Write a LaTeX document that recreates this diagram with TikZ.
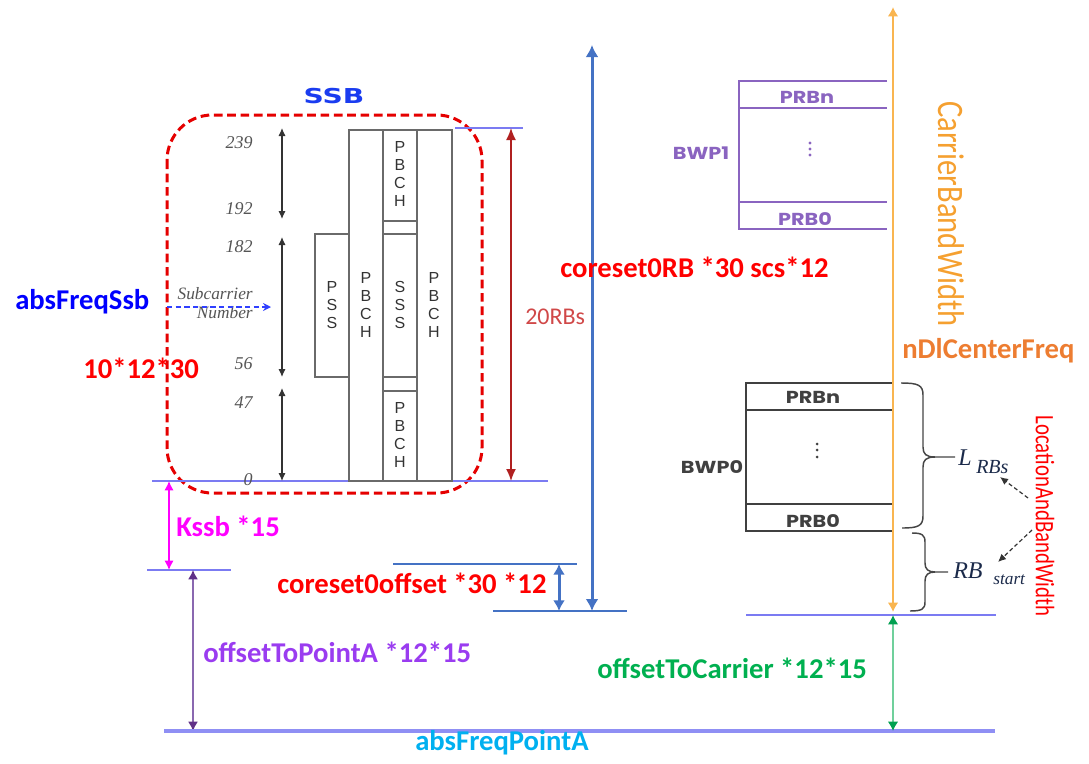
\documentclass[tikz,border=0pt]{standalone}
\usepackage{fontspec}
\setmainfont{Carlito}
\newfontfamily\serifit{Liberation Serif}
\newfontfamily\gothic{Poppins}
\newfontfamily\dejavu{DejaVu Sans}
\newfontfamily\arialf{Liberation Sans}
\usetikzlibrary{arrows.meta}
\definecolor{refblue}{HTML}{7B7BF2}
\definecolor{arrblue}{HTML}{4472C4}
\definecolor{ssbblue}{HTML}{1A3CF0}
\definecolor{absblue}{HTML}{0000FF}
\definecolor{numgray}{HTML}{555555}
\definecolor{blkgray}{HTML}{6A6A6A}
\definecolor{txtgray}{HTML}{333333}
\definecolor{rbred}{HTML}{B02020}
\definecolor{rbtext}{HTML}{D04848}
\definecolor{kmag}{HTML}{FF00FF}
\definecolor{ptaline}{HTML}{8A68B0}
\definecolor{ptahead}{HTML}{603088}
\definecolor{ptatext}{HTML}{9A3CF0}
\definecolor{pointa}{HTML}{00B0F0}
\definecolor{carline}{HTML}{F9B550}
\definecolor{cartext}{HTML}{F5A030}
\definecolor{nldc}{HTML}{ED7D31}
\definecolor{greenl}{HTML}{70D09C}
\definecolor{greenh}{HTML}{00A050}
\definecolor{greent}{HTML}{00B050}
\definecolor{bwpone}{HTML}{8A64C0}
\definecolor{bwpzero}{HTML}{404040}
\definecolor{brcgray}{HTML}{454545}
\definecolor{lrbs}{HTML}{1B2A4A}
\definecolor{subdash}{HTML}{3040FF}
\begin{document}
\begin{tikzpicture}[x=0.75pt,y=-0.75pt,
  lbl/.style={font=\fontsize{21.5}{24}\selectfont\bfseries, inner sep=0pt, anchor=base west},
  num/.style={font=\serifit\itshape\fontsize{13.5}{14}\selectfont, text=numgray, inner sep=0pt, anchor=base east},
  blk/.style={draw=blkgray, line width=1.1pt},
  stack/.style={font=\arialf\fontsize{12}{13.5}\selectfont, text=txtgray, align=center, inner sep=0pt},
  prb/.style={font=\gothic\bfseries\fontsize{13}{14}\selectfont, inner sep=0pt},
  vtxt/.style={rotate=-90, inner sep=0pt},
  brc/.style={draw=brcgray, line width=1.1pt},
  refl/.style={draw=refblue, line width=1.5pt},
  blackarr/.style={draw=txtgray, line width=0.9pt, {Latex[length=6pt,width=5.5pt]}-{Latex[length=6pt,width=5.5pt]}},
]
\useasboundingbox (0,0) rectangle (1089,764);

% ---------- SSB box ----------
\node[font=\dejavu\bfseries\fontsize{15.4}{16}\selectfont, text=ssbblue, inner sep=0pt, anchor=base] (ssb) at (334,103) {\scalebox{1.37}[1]{SSB}};
\draw[draw=red!90!black, line width=2.25pt, dash pattern=on 6.5pt off 3.5pt, rounded corners=34pt] (167,115) rectangle (482,493);

% reference lines around the SSB
\coordinate (t1) at (455,128); \coordinate (t2) at (523,128);
\draw[refl] (t1) -- (t2);
\coordinate (b1) at (152,481); \coordinate (b2) at (548,481);
\draw[refl] (b1) -- (b2);

% blocks
\draw[blk] (315,234) rectangle (349,377);
\draw[blk] (349,130) rectangle (383,481);
\draw[blk] (383,130) rectangle (417,481);
\draw[blk] (383,221) -- (417,221);
\draw[blk] (383,234) -- (417,234);
\draw[blk] (383,377) -- (417,377);
\draw[blk] (383,391) -- (417,391);
\draw[blk] (417,130) rectangle (452,481);
\node[stack] (pss) at (332,305) {P\\S\\S};
\node[stack] (pbch1) at (366,305) {P\\B\\C\\H};
\node[stack] (pbcht) at (400,174) {P\\B\\C\\H};
\node[stack] (sss) at (400,305) {S\\S\\S};
\node[stack] (pbchb) at (400,435) {P\\B\\C\\H};
\node[stack] (pbch4) at (434,305) {P\\B\\C\\H};

% subcarrier numbers
\node[num] (n239) at (253,148) {239};
\node[num] (n192) at (253,214) {192};
\node[num] (n182) at (253,252) {182};
\node[num] (n56) at (253,369) {56};
\node[num] (n47) at (253,408) {47};
\node[num] (n0) at (253,485) {0};
\coordinate (a1t) at (282,128); \coordinate (a1b) at (282,219);
\coordinate (a2t) at (282,237); \coordinate (a2b) at (282,377);
\coordinate (a3t) at (282,388); \coordinate (a3b) at (282,481);
\draw[blackarr] (a1t) -- (a1b);
\draw[blackarr] (a2t) -- (a2b);
\draw[blackarr] (a3t) -- (a3b);
\node[num, font=\serifit\itshape\fontsize{13}{13}\selectfont] (subc) at (253,299) {Subcarrier};
\node[num, font=\serifit\itshape\fontsize{13}{13}\selectfont] (subn) at (253,318) {Number};
\coordinate (sd1) at (167,307); \coordinate (sd2) at (271,307);
\draw[draw=subdash, line width=0.9pt, dash pattern=on 4pt off 2.5pt, -{Stealth[length=6pt,width=6pt]}] (sd1) -- (sd2);

% 20RBs
\coordinate (r1) at (511,128); \coordinate (r2) at (511,481);
\draw[draw=rbred, line width=1.1pt, {Latex[length=9pt,width=7.5pt]}-{Latex[length=9pt,width=7.5pt]}] (r1) -- (r2);
\node[font=\fontsize{18}{20}\selectfont, text=rbtext, inner sep=0pt, anchor=base west] (rbs20) at (525,324) {20RBs};

% left labels
\node[lbl, text=absblue] (absssb) at (15,309) {absFreqSsb};
\node[lbl, text=red] (tenx) at (83,378) {10*12*30};

% Kssb
\coordinate (k1) at (147,570); \coordinate (k2) at (231,570);
\draw[refl] (k1) -- (k2);
\coordinate (ka) at (169,481); \coordinate (kb) at (169,570);
\draw[draw=kmag, line width=1.1pt, {Latex[length=7pt,width=7pt]}-{Latex[length=7pt,width=7pt]}] (ka) -- (kb);
\node[lbl, text=kmag] (kssb) at (176,536) {Kssb *15};

% offsetToPointA
\coordinate (pa1) at (193,570); \coordinate (pa2) at (193,731);
\draw[draw=ptaline, line width=1.1pt, {Latex[length=7pt,width=7.5pt,color=ptahead]}-{Latex[length=7pt,width=7.5pt,color=ptahead]}] (pa1) -- (pa2);
\node[lbl, text=ptatext] (otpa) at (203,662) {offsetToPointA *12*15};

% absFreqPointA line
\coordinate (pl1) at (164,731); \coordinate (pl2) at (995,731);
\draw[draw=refblue!85!white, line width=2.3pt] (pl1) -- (pl2);
\node[lbl, text=pointa] (afpa) at (415,750) {absFreqPointA};

% coreset0
\coordinate (c1) at (393,564); \coordinate (c2) at (577,564);
\draw[draw=arrblue, line width=1.3pt] (c1) -- (c2);
\coordinate (c3) at (493,611); \coordinate (c4) at (627,611);
\draw[draw=arrblue, line width=1pt] (c3) -- (c4);
\coordinate (co1) at (559,564); \coordinate (co2) at (559,611);
\draw[draw=arrblue, line width=2.25pt, {Latex[length=8pt,width=9pt]}-{Latex[length=8pt,width=9pt]}] (co1) -- (co2);
\node[lbl, text=red] (c0off) at (277,593) {coreset0offset *30 *12};
\coordinate (bb1) at (592,45); \coordinate (bb2) at (592,611);
\draw[draw=arrblue, line width=2.25pt, {Latex[length=9pt,width=9.75pt]}-{Latex[length=9pt,width=9.75pt]}] (bb1) -- (bb2);
\node[lbl, text=red] (c0rb) at (560,277) {coreset0RB *30 scs*12};

% ---------- right side ----------
% BWP1
\draw[draw=bwpone, line width=1.5pt] (887,81) -- (739,81) -- (739,229) -- (887,229);
\draw[draw=bwpone, line width=1.5pt] (739,108) -- (887,108);
\draw[draw=bwpone, line width=1.5pt] (739,202) -- (887,202);
\node[prb, text=bwpone] (p1n) at (807,97) {\scalebox{1.2}[1]{PRBn}};
\node[prb, text=bwpone] (p10) at (805,219) {\scalebox{1.2}[1]{PRB0}};
\node[prb, text=bwpone] (bwp1) at (701,153) {\scalebox{1.2}[1]{BWP1}};
\fill[bwpone] (810,143) circle (1.6) (810,149) circle (1.6) (810,155) circle (1.6);

% BWP0
\draw[draw=bwpzero, line width=1.2pt] (893,383) -- (746,383) -- (746,531) -- (893,531);
\draw[draw=bwpzero, line width=1.2pt] (746,410) -- (893,410);
\draw[draw=bwpzero, line width=1.2pt] (746,504) -- (893,504);
\node[prb, text=bwpzero] (p0n) at (813,397) {\scalebox{1.2}[1]{PRBn}};
\node[prb, text=bwpzero] (p00) at (813,521) {\scalebox{1.2}[1]{PRB0}};
\node[prb, text=bwpzero] (bwp0) at (712,467) {\scalebox{1.2}[1]{BWP0}};
\fill[bwpzero] (817,444) circle (1.5) (817,450) circle (1.5) (817,457) circle (1.5);

% right base line
\coordinate (rb1) at (746,615); \coordinate (rb2) at (996,615);
\draw[draw=refblue, line width=1.9pt] (rb1) -- (rb2);

% carrier bandwidth arrow
\coordinate (or1) at (893,7); \coordinate (or2) at (893,612);
\draw[draw=carline, line width=1.5pt, {Latex[length=7pt,width=8pt]}-{Latex[length=7pt,width=8pt]}] (or1) -- (or2);
\node[vtxt, font=\fontsize{28}{30}\selectfont, text=cartext] (cbw) at (951,214) {\scalebox{0.82}[1]{CarrierBandWidth}};
\node[lbl, text=nldc] (ndl) at (902,358) {nDlCenterFreq};

% offsetToCarrier
\coordinate (g1) at (893,615); \coordinate (g2) at (893,731);
\draw[draw=greenl, line width=1.5pt, {Latex[length=7pt,width=8pt,color=greenh]}-{Latex[length=7pt,width=8pt,color=greenh]}] (g1) -- (g2);
\node[lbl, text=greent] (otc) at (597,678) {offsetToCarrier *12*15};

% braces
\draw[brc] (901,383) .. controls (918,383) and (923,385) .. (923,395) -- (923,447) .. controls (923,454) and (926,457) .. (935,457) -- (955,457);
\draw[brc] (902,528) .. controls (918,528) and (923,526) .. (923,516) -- (923,467) .. controls (923,460) and (926,457) .. (935,457);
\draw[brc] (912,533) .. controls (922,533) and (925,535) .. (925,542) -- (925,563) .. controls (925,569) and (928,572) .. (935,572) -- (948,572);
\draw[brc] (910,611) .. controls (922,611) and (925,609) .. (925,602) -- (925,581) .. controls (925,575) and (928,572) .. (935,572);

% L_RBs and RB_start
\node[font=\serifit\itshape\fontsize{18}{18}\selectfont, text=lrbs, inner sep=0pt, anchor=base west] (lsym) at (958,465) {L};
\node[font=\serifit\itshape\fontsize{15}{15}\selectfont, text=lrbs, inner sep=0pt, anchor=base west] (lsub) at (976,473) {RBs};
\node[font=\serifit\itshape\fontsize{18}{18}\selectfont, text=lrbs, inner sep=0pt, anchor=base west] (rbsym) at (953,578) {RB};
\node[font=\serifit\itshape\fontsize{13}{13}\selectfont, text=lrbs, inner sep=0pt, anchor=base west] (rbsub) at (993,584) {start};

% LocationAndBandWidth
\node[vtxt, font=\fontsize{20}{22}\selectfont, text=red] (lab) at (1045,516) {\scalebox{0.78}[1]{LocationAndBandWidth}};
\coordinate (d1s) at (1028,498); \coordinate (d1e) at (1000,477);
\coordinate (d2s) at (1032,530); \coordinate (d2e) at (998,562);
\draw[draw=txtgray, line width=0.9pt, dash pattern=on 3pt off 2pt, -{Latex[length=6pt,width=5.5pt]}] (d1s) -- (d1e);
\draw[draw=txtgray, line width=0.9pt, dash pattern=on 3pt off 2pt, -{Latex[length=6pt,width=5.5pt]}] (d2s) -- (d2e);
\end{tikzpicture}
\end{document}
